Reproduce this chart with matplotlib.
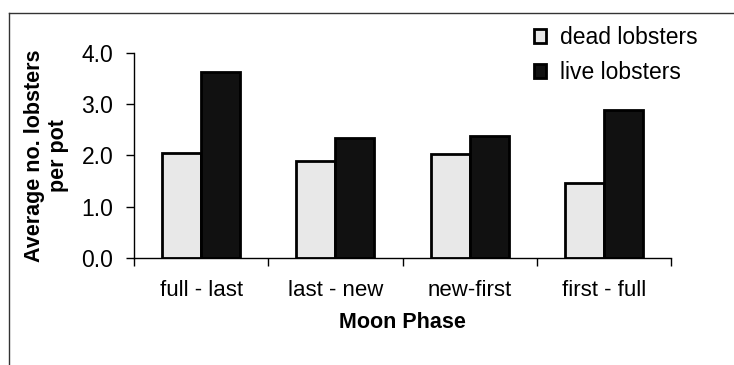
import numpy as np
import matplotlib
matplotlib.use("Agg")
import matplotlib.pyplot as plt
from matplotlib.lines import Line2D

plt.rcParams['font.family'] = ['Liberation Sans', 'DejaVu Sans']

# datos
fases = ['full - last', 'last - new', 'new-first', 'first - full']
muertas = [2.05, 1.89, 2.03, 1.47]
vivas = [3.63, 2.35, 2.38, 2.89]

fig = plt.figure(figsize=(7.34, 3.65), dpi=100)
ax = fig.add_axes([0.1826, 0.2932, 0.7316, 0.5616])

x = np.arange(len(fases))
ancho = 0.29
ax.bar(x - ancho / 2, muertas, ancho, color='#e8e8e8', edgecolor='black',
       linewidth=2, label='dead lobsters')
ax.bar(x + ancho / 2, vivas, ancho, color='#111111', edgecolor='black',
       linewidth=2, label='live lobsters')

ax.set_xlim(-0.5, len(fases) - 0.5)
ax.set_ylim(0, 4)
ax.set_yticks([0, 1, 2, 3, 4])
ax.set_yticklabels(['0.0', '1.0', '2.0', '3.0', '4.0'], fontsize=16.5)

# ticks del eje x en los limites de cada categoria
ax.set_xticks(np.arange(-0.5, len(fases), 1))
ax.set_xticklabels([])
ax.set_xticks(x, minor=True)
ax.set_xticklabels(fases, minor=True, fontsize=16)
ax.tick_params(axis='x', which='minor', length=0, pad=16)
ax.tick_params(axis='x', which='major', length=6, width=1)
ax.tick_params(axis='y', length=6, width=1, pad=9)

for lado in ['top', 'right']:
    ax.spines[lado].set_visible(False)
for lado in ['left', 'bottom']:
    ax.spines[lado].set_linewidth(1)

ax.set_xlabel('Moon Phase', fontsize=15.5, fontweight='bold', labelpad=8)
ax.set_ylabel('Average no. lobsters\nper pot', fontsize=15.5,
              fontweight='bold', labelpad=9, linespacing=1.15)

fig.legend(loc='upper left', bbox_to_anchor=(0.727, 0.928), frameon=False,
           fontsize=16.5, handlelength=0.55, handleheight=0.55,
           handletextpad=0.6, labelspacing=0.5, borderpad=0,
           borderaxespad=0)

# marco de la figura (solo izquierda y arriba)
fig.add_artist(Line2D([9 / 734, 9 / 734], [0, 1 - 13 / 365],
                      transform=fig.transFigure, color='#333333', lw=1))
fig.add_artist(Line2D([9 / 734, 1], [1 - 13 / 365, 1 - 13 / 365],
                      transform=fig.transFigure, color='#333333', lw=1))

fig.savefig('out.png', dpi=100)
